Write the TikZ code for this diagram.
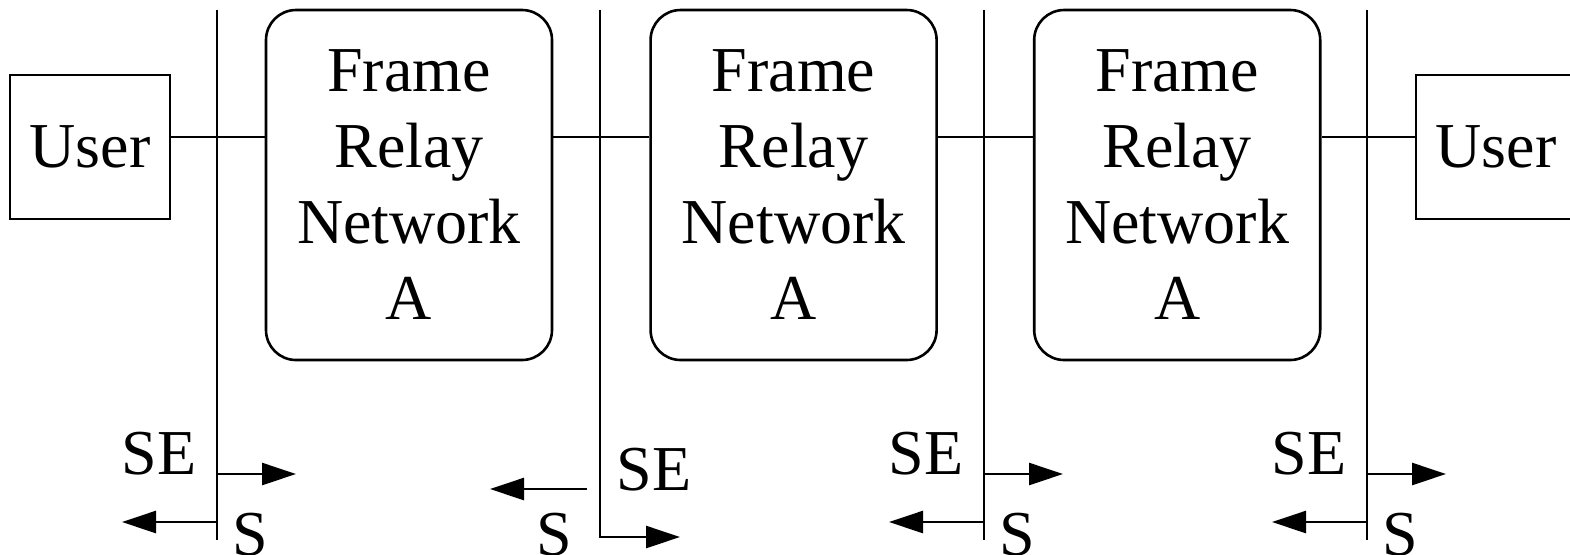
\documentclass[tikz,border=0pt]{standalone}
\usepackage{fontspec}
\setmainfont{Liberation Serif}
\usetikzlibrary{arrows.meta,positioning}

\begin{document}
\begin{tikzpicture}[
            x = 0.5pt, y = -0.5pt, % one unit per pixel of the drawing
            > = {Triangle[length=17pt, width=11pt]}, % arrow head style
            line width = 1.3pt, % line style
            font = \fontsize{32}{38}\selectfont
        ]

        \tikzstyle{user}=[
            draw = black,
            minimum width = 80pt,
            minimum height = 72pt,
            inner sep = 0pt
        ]
        \tikzstyle{relay}=[
            draw = black,
            rounded corners = 15pt,
            minimum width = 143pt,
            minimum height = 175pt,
            align = center
        ]
        \tikzstyle{tag}=[inner sep = 0pt]

        \useasboundingbox (0,0) rectangle (1570,554);

        \node[user] (U1) at (90,147) {User};
        \node[relay] (R1) at (409,185) {Frame\\Relay\\Network\\A};
        \node[relay] (R2) [right=48pt of R1] {Frame\\Relay\\Network\\A};
        \node[relay] (R3) [right=47.5pt of R2] {Frame\\Relay\\Network\\A};
        \node[user] (U2) at (1496,147) {User};

        % the link
        \coordinate (L) at (0,137);
        \draw (U1.east |- L) -- (R1.west |- L);
        \draw (R1.east |- L) -- (R2.west |- L);
        \draw (R2.east |- L) -- (R3.west |- L);
        \draw (R3.east |- L) -- (U2.west |- L);

        % interfaces
        \foreach \x in {217,984,1367} {
            \coordinate (V\x) at (\x,10);
            \coordinate (W\x) at (\x,540);
            \draw (V\x) -- (W\x);
            \draw[->] (V\x |- 0,474) -- ++(79,0);
            \draw[->] (V\x |- 0,522) -- ++(-95,0);
            \node[tag] (SE\x) at (\x-58,454) {SE};
            \node[tag] (S\x) at (\x+33,535) {S};
        }

        \coordinate (V600) at (600,10);
        \coordinate (W600) at (600,537);
        \draw[->] (V600) -- (W600) -- ++(80,0);
        \draw[->] (587,489) -- ++(-97,0);
        \node[tag] (SE600) at (654,470) {SE};
        \node[tag] (S600) at (554,535) {S};
    \end{tikzpicture}
\end{document}
